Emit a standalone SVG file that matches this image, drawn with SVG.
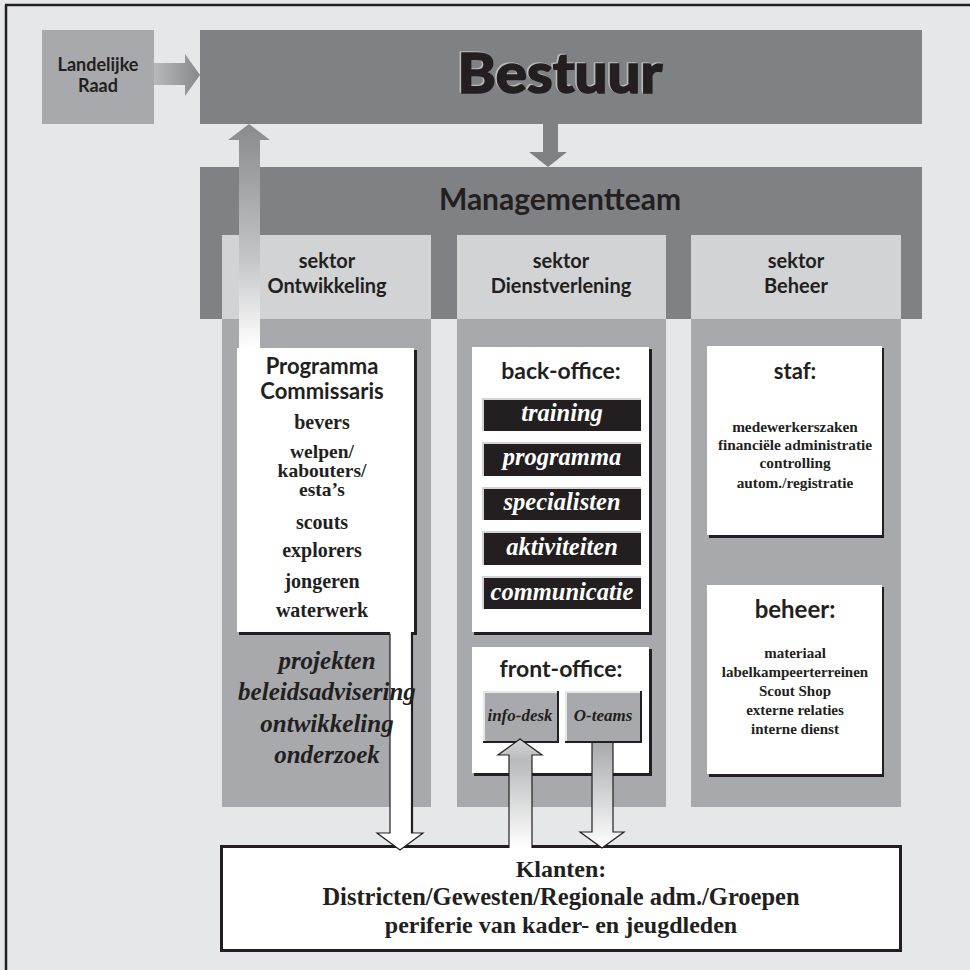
<svg xmlns="http://www.w3.org/2000/svg" width="970" height="970" viewBox="0 0 970 970">
<defs>
<style>
.sans{font-family:Lato,"Open Sans","Liberation Sans",sans-serif;font-weight:700;fill:#231f20;text-anchor:middle}
.serif{font-family:"Liberation Serif","Times New Roman",serif;font-weight:700;fill:#231f20;text-anchor:middle}
.it{font-style:italic}
.wht{fill:#ffffff}
.dark{fill:#808184}
.mid{fill:#a7a9ac}
.light{fill:#d1d3d4}
.ink{fill:#231f20}
.lbl{fill:#ffffff}
.bev{fill:none;stroke:#d1d3d4;stroke-width:2}
.bevd{fill:none;stroke:#231f20;stroke-width:2}
.outl{fill:none;stroke:#231f20;stroke-width:1.2}
</style>
<linearGradient id="gH" x1="154" y1="0" x2="200" y2="0" gradientUnits="userSpaceOnUse">
<stop offset="0" stop-color="#b8b9bb"/><stop offset="1" stop-color="#87888b"/>
</linearGradient>
<linearGradient id="gUp" x1="0" y1="124" x2="0" y2="348" gradientUnits="userSpaceOnUse">
<stop offset="0" stop-color="#8a8b8e"/><stop offset="0.25" stop-color="#a0a1a4"/><stop offset="0.6" stop-color="#c4c5c7"/><stop offset="1" stop-color="#ffffff"/>
</linearGradient>
<linearGradient id="gInfo" x1="0" y1="739" x2="0" y2="848" gradientUnits="userSpaceOnUse">
<stop offset="0" stop-color="#d4d5d7"/><stop offset="0.2" stop-color="#b9babc"/><stop offset="1" stop-color="#ffffff"/>
</linearGradient>
<linearGradient id="gO" x1="0" y1="742" x2="0" y2="848" gradientUnits="userSpaceOnUse">
<stop offset="0" stop-color="#a7a9ac"/><stop offset="1" stop-color="#ffffff"/>
</linearGradient>
</defs>

<rect x="0" y="0" width="970" height="970" fill="#e6e7e8"/>
<line x1="5" y1="5" x2="970" y2="5" stroke="#231f20" stroke-width="2.5"/>
<line x1="6" y1="5" x2="6" y2="970" stroke="#231f20" stroke-width="2.5"/>

<g id="landelijke-raad">
<rect x="42" y="30" width="112" height="94" class="mid"/>
<text class="sans" x="98" y="71" font-size="18">Landelijke</text>
<text class="sans" x="98" y="92" font-size="18">Raad</text>
</g>

<g id="bestuur">
<rect x="200" y="30" width="722" height="94" class="dark"/>
<text class="sans" x="558.5" y="92" font-size="56" textLength="205" lengthAdjust="spacingAndGlyphs" style="fill:#b8b9bb;font-weight:900" stroke="#b8b9bb" stroke-width="1.6">Bestuur</text>
<text class="sans" x="560" y="93" font-size="56" textLength="205" lengthAdjust="spacingAndGlyphs" style="font-weight:900" stroke="#231f20" stroke-width="1.4">Bestuur</text>
</g>

<g id="managementteam">
<rect x="200" y="167" width="722" height="152" class="dark"/>
<text class="sans" x="560" y="210" font-size="30">Managementteam</text>
</g>

<g id="sektor-ontwikkeling">
<rect x="222" y="319" width="209" height="488" class="mid"/>
<rect x="222" y="235" width="209" height="84" class="light"/>
<text class="sans" x="327" y="268" font-size="20">sektor</text>
<text class="sans" x="327" y="293" font-size="20">Ontwikkeling</text>
</g>

<g id="sektor-dienstverlening">
<rect x="457" y="319" width="209" height="488" class="mid"/>
<rect x="457" y="235" width="209" height="84" class="light"/>
<text class="sans" x="561" y="268" font-size="20">sektor</text>
<text class="sans" x="561" y="293" font-size="20">Dienstverlening</text>
</g>

<g id="sektor-beheer">
<rect x="691" y="319" width="210" height="488" class="mid"/>
<rect x="691" y="235" width="210" height="84" class="light"/>
<text class="sans" x="796" y="268" font-size="20">sektor</text>
<text class="sans" x="796" y="293" font-size="20">Beheer</text>
</g>

<g id="programma-commissaris">
<rect x="239" y="350" width="178" height="285" class="ink"/>
<rect x="237" y="348" width="177" height="284" class="wht"/>
<text class="sans" x="322" y="374" font-size="22">Programma</text>
<text class="sans" x="322" y="399" font-size="22">Commissaris</text>
<text class="serif" x="322" y="429" font-size="20">bevers</text>
<text class="serif" x="322" y="458" font-size="19.5">welpen/</text>
<text class="serif" x="322" y="477" font-size="19.5">kabouters/</text>
<text class="serif" x="322" y="496" font-size="19.5">esta’s</text>
<text class="serif" x="322" y="529" font-size="20">scouts</text>
<text class="serif" x="322" y="557" font-size="20">explorers</text>
<text class="serif" x="322" y="588" font-size="20">jongeren</text>
<text class="serif" x="322" y="617" font-size="20">waterwerk</text>
</g>

<g id="back-office">
<rect x="474" y="349" width="178" height="286" class="ink"/>
<rect x="472" y="347" width="177" height="285" class="wht"/>
<text class="sans" x="561" y="379" font-size="23">back-office:</text>
</g>

<g id="training">
<rect x="482" y="398" width="159" height="33" class="ink"/><path class="bev" d="M483,431V399H641"/>
<text class="serif it lbl" x="562" y="421" font-size="24.5">training</text>
</g>
<g id="programma">
<rect x="482" y="442" width="159" height="34" class="ink"/><path class="bev" d="M483,476V443H641"/>
<text class="serif it lbl" x="562" y="465" font-size="24.5">programma</text>
</g>
<g id="specialisten">
<rect x="482" y="487" width="159" height="33" class="ink"/><path class="bev" d="M483,520V488H641"/>
<text class="serif it lbl" x="562" y="510" font-size="24.5">specialisten</text>
</g>
<g id="aktiviteiten">
<rect x="482" y="531" width="159" height="34" class="ink"/><path class="bev" d="M483,565V532H641"/>
<text class="serif it lbl" x="562" y="555" font-size="24.5">aktiviteiten</text>
</g>
<g id="communicatie">
<rect x="482" y="576" width="159" height="33" class="ink"/><path class="bev" d="M483,609V577H641"/>
<text class="serif it lbl" x="562" y="600" font-size="24.5">communicatie</text>
</g>

<g id="front-office">
<rect x="474" y="649" width="178" height="127" class="ink"/>
<rect x="472" y="647" width="177" height="126" class="wht"/>
<text class="sans" x="561" y="677" font-size="23">front-office:</text>
</g>
<g id="info-desk">
<rect x="483" y="691" width="75" height="51" class="mid"/>
<path class="bev" d="M484,741V692H557" style="stroke:#e6e7e8"/>
<path class="bevd" d="M483,742H558V691"/>
<text class="serif it" x="520" y="721" font-size="17">info-desk</text>
</g>
<g id="o-teams">
<rect x="565" y="691" width="76" height="51" class="mid"/>
<path class="bev" d="M566,741V692H640" style="stroke:#e6e7e8"/>
<path class="bevd" d="M565,742H641V691"/>
<text class="serif it" x="603" y="721" font-size="17">O-teams</text>
</g>

<g id="staf">
<rect x="709" y="348" width="175" height="190" class="ink"/>
<rect x="707" y="346" width="175" height="189" class="wht"/>
<text class="sans" x="795" y="379" font-size="22">staf:</text>
<text class="serif" x="795" y="432" font-size="15.3">medewerkerszaken</text>
<text class="serif" x="795" y="450" font-size="15.3">financiële administratie</text>
<text class="serif" x="795" y="468" font-size="15.3">controlling</text>
<text class="serif" x="795" y="488" font-size="15.3">autom./registratie</text>
</g>

<g id="beheer">
<rect x="709" y="587" width="175" height="190" class="ink"/>
<rect x="707" y="585" width="175" height="189" class="wht"/>
<text class="sans" x="795" y="618" font-size="24">beheer:</text>
<text class="serif" x="795" y="658" font-size="15">materiaal</text>
<text class="serif" x="795" y="677" font-size="15">labelkampeerterreinen</text>
<text class="serif" x="795" y="696" font-size="15">Scout Shop</text>
<text class="serif" x="795" y="715" font-size="15">externe relaties</text>
<text class="serif" x="795" y="734" font-size="15">interne dienst</text>
</g>

<g id="klanten">
<rect x="221.5" y="846.5" width="679" height="104" fill="#ffffff" stroke="#231f20" stroke-width="3"/>
<line x1="221" y1="950.5" x2="902" y2="950.5" stroke="#231f20" stroke-width="3"/>
<text class="serif" x="561" y="877" font-size="24">Klanten:</text>
<text class="serif" x="561" y="905" font-size="24.5">Districten/Gewesten/Regionale adm./Groepen</text>
<text class="serif" x="561" y="933" font-size="24">periferie van kader- en jeugdleden</text>
</g>

<g id="connectors">
<polygon points="154,63 185,63 185,54 200,75 185,96 185,85 154,85" fill="url(#gH)"/>
<polygon points="543,124 558,124 558,152 567,152 548,167 529,152 543,152" fill="#808184"/>
<polygon points="239,348 239,140 228,140 249,124 270,140 260,140 260,348" fill="url(#gUp)"/>
<polygon points="390,632 390,833 377,833 400,850 423,833 411,833 411,632" fill="#ffffff"/>
<path class="outl" d="M390,634V833H377L400,850L423,833H411"/>
<line x1="412" y1="632" x2="412" y2="833" stroke="#231f20" stroke-width="2.2"/>
<polygon points="509,849 509,755 498,755 520,739 542,755 532,755 532,849" fill="url(#gInfo)"/>
<path class="outl" d="M509,848V755H498L520,739L542,755H532V848"/>
<polygon points="592,743 592,832 580,832 602,848 624,832 613,832 613,743" fill="url(#gO)"/>
<path class="outl" d="M592,743V832H580L602,848L624,832H613V743"/>
</g>

<g id="projekten">
<text class="serif it" x="327" y="669" font-size="25">projekten</text>
<text class="serif it" x="327" y="700" font-size="25">beleidsadvisering</text>
<text class="serif it" x="327" y="732" font-size="25">ontwikkeling</text>
<text class="serif it" x="327" y="763" font-size="25">onderzoek</text>
</g>
</svg>
